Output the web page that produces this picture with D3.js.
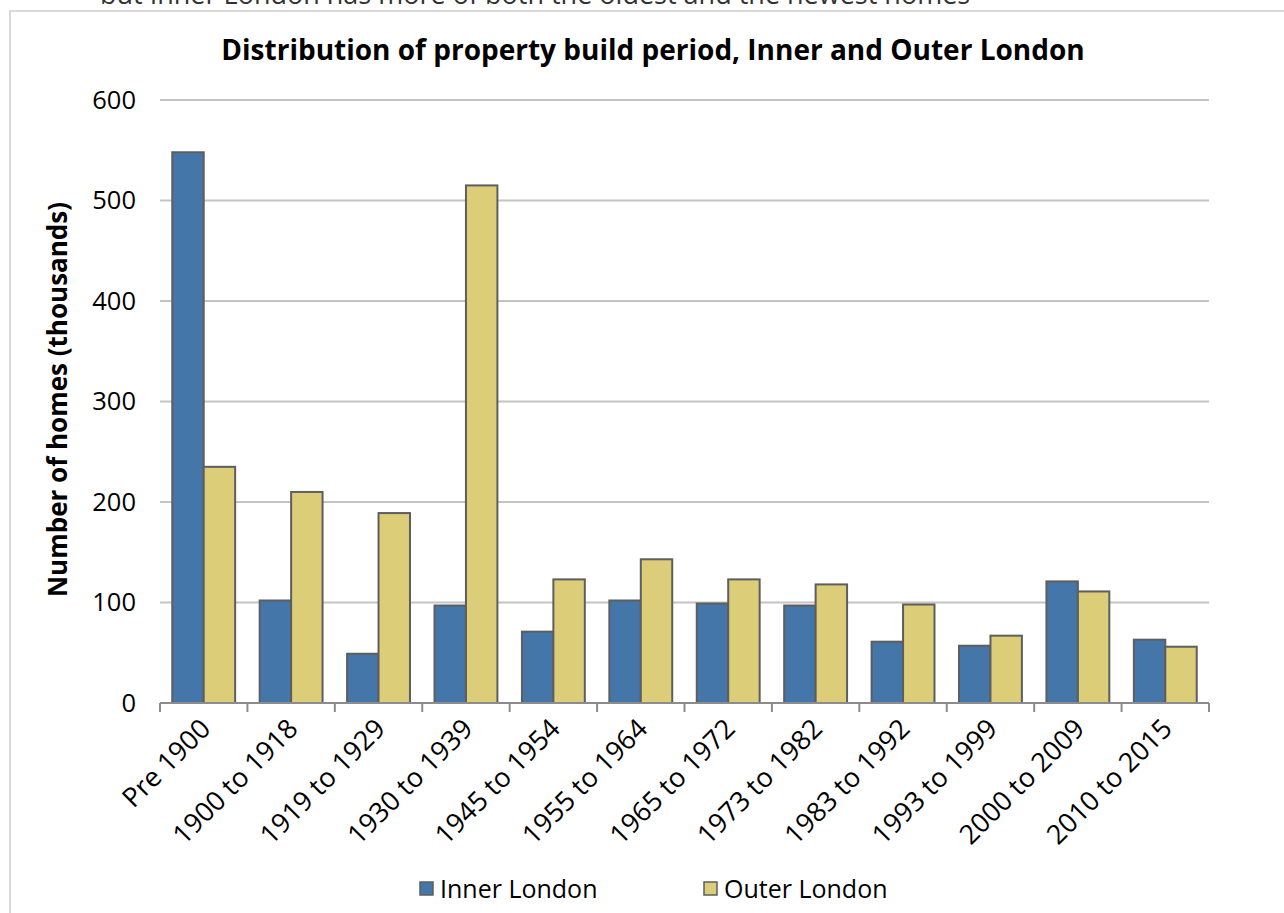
<!DOCTYPE html>
<html>
<head>
<meta charset="utf-8">
<script src="https://cdn.jsdelivr.net/npm/d3@7"></script>
<style>
  body { margin: 0; background: #fff; }
  svg { display: block; font-family: "Open Sans", "Noto Sans", sans-serif; }
</style>
</head>
<body>
<div id="chart"></div>
<script>
// chart data
var periods = ["Pre 1900", "1900 to 1918", "1919 to 1929", "1930 to 1939", "1945 to 1954",
  "1955 to 1964", "1965 to 1972", "1973 to 1982", "1983 to 1992", "1993 to 1999",
  "2000 to 2009", "2010 to 2015"];
var innerLondon = [548, 102, 49, 97, 71, 102, 99, 97, 61, 57, 121, 63];
var outerLondon = [235, 210, 189, 515, 123, 143, 123, 118, 98, 67, 111, 56];
var seriesNames = ["Inner London", "Outer London"];
var yTicks = [0, 100, 200, 300, 400, 500, 600];

var colors = ["#4576a9", "#dccd78"];

var svgWidth = 1284, svgHeight = 913;
var margin = {top: 100, right: 75, bottom: 210, left: 160};
var chartWidth = svgWidth - margin.left - margin.right;
var chartHeight = svgHeight - margin.top - margin.bottom;

var svg = d3.select("#chart").append("svg")
  .attr("width", svgWidth)
  .attr("height", svgHeight);

// caption cut off at top of the frame
svg.append("text")
  .attr("x", 100)
  .attr("y", 4)
  .attr("font-size", "27px")
  .attr("fill", "#333")
  .text("but Inner London has more of both the oldest and the newest homes");

// chart border
svg.append("rect")
  .attr("x", 10).attr("y", 11)
  .attr("width", 1300).attr("height", 950)
  .attr("fill", "#fff")
  .attr("stroke", "#d9d9d9")
  .attr("stroke-width", 2);

// title
svg.append("text")
  .attr("x", 653)
  .attr("y", 60)
  .attr("text-anchor", "middle")
  .attr("font-size", "28px")
  .attr("font-weight", "bold")
  .attr("fill", "#000")
  .text("Distribution of property build period, Inner and Outer London");

var chartGroup = svg.append("g")
  .attr("transform", `translate(${margin.left}, ${margin.top})`);

var xScale = d3.scaleBand()
  .domain(periods)
  .range([0, chartWidth]);

var xInner = d3.scaleBand()
  .domain(seriesNames)
  .range([0, xScale.bandwidth()])
  .paddingOuter(0.39);

var yScale = d3.scaleLinear()
  .domain([0, 600])
  .range([chartHeight, 0]);

// gridlines
chartGroup.append("g")
  .selectAll("line")
  .data(yTicks.filter(d => d > 0))
  .join("line")
  .attr("x1", 0).attr("x2", chartWidth)
  .attr("y1", d => yScale(d)).attr("y2", d => yScale(d))
  .attr("stroke", "#c4c4c4")
  .attr("stroke-width", 2);

// y labels
chartGroup.append("g")
  .selectAll("text")
  .data(yTicks)
  .join("text")
  .attr("x", -24)
  .attr("y", d => yScale(d))
  .attr("dy", "0.35em")
  .attr("text-anchor", "end")
  .attr("font-size", "25.5px")
  .attr("fill", "#000")
  .text(d => d);

// bars
var rows = periods.map((p, i) => ({period: p, values: [innerLondon[i], outerLondon[i]]}));

var groups = chartGroup.selectAll(".period")
  .data(rows)
  .join("g")
  .attr("class", "period")
  .attr("transform", d => `translate(${xScale(d.period)}, 0)`);

groups.selectAll("rect")
  .data(d => d.values.map((v, k) => ({name: seriesNames[k], value: v, k: k})))
  .join("rect")
  .attr("x", d => xInner(d.name))
  .attr("width", xInner.bandwidth())
  .attr("y", d => yScale(d.value))
  .attr("height", d => chartHeight - yScale(d.value))
  .attr("fill", d => colors[d.k])
  .attr("stroke", "#5e5e5e")
  .attr("stroke-width", 2);

// x axis line and boundary ticks
chartGroup.append("line")
  .attr("x1", 0).attr("x2", chartWidth)
  .attr("y1", chartHeight).attr("y2", chartHeight)
  .attr("stroke", "#8c8c8c")
  .attr("stroke-width", 2);

var bounds = periods.map(p => xScale(p)).concat([chartWidth]);
chartGroup.append("g")
  .selectAll("line")
  .data(bounds)
  .join("line")
  .attr("x1", d => d).attr("x2", d => d)
  .attr("y1", chartHeight).attr("y2", chartHeight + 9)
  .attr("stroke", "#8c8c8c")
  .attr("stroke-width", 2);

// x labels
chartGroup.append("g")
  .selectAll("text")
  .data(periods)
  .join("text")
  .attr("transform", d => `translate(${xScale(d) + xScale.bandwidth() / 2 - 5}, ${chartHeight + 14}) rotate(-45)`)
  .attr("text-anchor", "end")
  .attr("dy", "0.7em")
  .attr("font-size", "27px")
  .attr("fill", "#000")
  .text(d => d);

// y axis title
svg.append("text")
  .attr("transform", `translate(67, ${margin.top + chartHeight / 2 - 2}) rotate(-90)`)
  .attr("text-anchor", "middle")
  .attr("font-size", "26px")
  .attr("font-weight", "bold")
  .attr("fill", "#000")
  .text("Number of homes (thousands)");

// legend
var legendX = [420, 704];
var legend = svg.append("g")
  .selectAll("g")
  .data(seriesNames)
  .join("g")
  .attr("transform", (d, i) => `translate(${legendX[i]}, 882)`);

legend.append("rect")
  .attr("width", 13).attr("height", 13)
  .attr("fill", (d, i) => colors[i])
  .attr("stroke", "#5e5e5e")
  .attr("stroke-width", 1.5);

legend.append("text")
  .attr("x", 20)
  .attr("y", 7)
  .attr("dy", "0.35em")
  .attr("font-size", "25px")
  .attr("fill", "#000")
  .text(d => d);
</script>
</body>
</html>
